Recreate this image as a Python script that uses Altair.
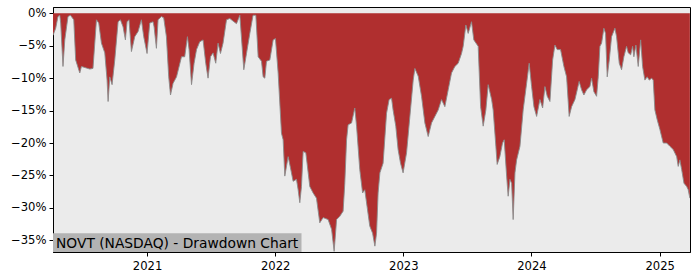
import altair as alt
import pandas as pd

# time in decimal years, drawdown in percent
years = [
    2020.266, 2020.287, 2020.305, 2020.319, 2020.326, 2020.344, 2020.358, 2020.383, 2020.402, 2020.428,
    2020.443, 2020.475, 2020.488, 2020.521, 2020.553, 2020.578, 2020.605, 2020.623, 2020.644, 2020.670,
    2020.688, 2020.696, 2020.709, 2020.727, 2020.748, 2020.774, 2020.792, 2020.813, 2020.831, 2020.844,
    2020.859, 2020.878, 2020.904, 2020.930, 2020.956, 2020.974, 2021.000, 2021.021, 2021.047, 2021.055,
    2021.073, 2021.086, 2021.112, 2021.130, 2021.151, 2021.169, 2021.183, 2021.203, 2021.230, 2021.269,
    2021.294, 2021.315, 2021.328, 2021.347, 2021.367, 2021.386, 2021.411, 2021.437, 2021.458, 2021.476,
    2021.495, 2021.515, 2021.536, 2021.554, 2021.573, 2021.593, 2021.620, 2021.646, 2021.671, 2021.698,
    2021.724, 2021.755, 2021.776, 2021.802, 2021.827, 2021.849, 2021.867, 2021.893, 2021.906, 2021.919,
    2021.932, 2021.958, 2021.984, 2022.002, 2022.023, 2022.049, 2022.062, 2022.075, 2022.101, 2022.119,
    2022.140, 2022.166, 2022.179, 2022.192, 2022.205, 2022.218, 2022.239, 2022.270, 2022.296, 2022.322,
    2022.348, 2022.374, 2022.413, 2022.440, 2022.460, 2022.479, 2022.504, 2022.530, 2022.543, 2022.557,
    2022.569, 2022.596, 2022.621, 2022.635, 2022.660, 2022.682, 2022.699, 2022.717, 2022.738, 2022.760,
    2022.778, 2022.791, 2022.803, 2022.817, 2022.842, 2022.869, 2022.889, 2022.908, 2022.920, 2022.941,
    2022.959, 2022.978, 2022.998, 2023.025, 2023.051, 2023.077, 2023.090, 2023.116, 2023.142, 2023.168,
    2023.194, 2023.220, 2023.246, 2023.272, 2023.298, 2023.324, 2023.350, 2023.376, 2023.402, 2023.428,
    2023.454, 2023.467, 2023.488, 2023.506, 2023.532, 2023.550, 2023.584, 2023.603, 2023.623, 2023.644,
    2023.662, 2023.689, 2023.701, 2023.722, 2023.732, 2023.753, 2023.774, 2023.787, 2023.806, 2023.818,
    2023.832, 2023.845, 2023.857, 2023.871, 2023.884, 2023.910, 2023.935, 2023.962, 2023.982, 2024.001,
    2024.019, 2024.040, 2024.066, 2024.087, 2024.105, 2024.123, 2024.144, 2024.165, 2024.183, 2024.201,
    2024.227, 2024.253, 2024.274, 2024.294, 2024.313, 2024.339, 2024.357, 2024.372, 2024.391, 2024.409,
    2024.430, 2024.456, 2024.469, 2024.487, 2024.508, 2024.521, 2024.534, 2024.547, 2024.565, 2024.578,
    2024.591, 2024.607, 2024.625, 2024.651, 2024.664, 2024.685, 2024.703, 2024.721, 2024.742, 2024.755,
    2024.774, 2024.789, 2024.799, 2024.815, 2024.833, 2024.852, 2024.867, 2024.885, 2024.903, 2024.919,
    2024.938, 2024.950, 2024.963, 2024.981, 2025.002, 2025.028, 2025.055, 2025.080, 2025.106, 2025.133,
    2025.145, 2025.158, 2025.172, 2025.190, 2025.211, 2025.223, 2025.236,
]
drawdown = [
    -3.4, -2.3, -0.5, -0.3, -1.5, -8.2, -4.1, -0.5, -0.3, -1.0,
    -7.2, -9.2, -8.2, -8.4, -8.6, -8.5, -1.0, -1.5, -4.6, -6.1,
    -10.3, -13.6, -9.8, -11.0, -7.2, -1.3, -1.0, -2.1, -4.1, -1.3,
    -1.0, -5.9, -3.6, -2.8, -1.0, -3.6, -6.2, -1.5, -1.3, -2.1,
    -5.4, -1.0, -0.5, -0.7, -3.6, -9.8, -12.6, -10.8, -9.8, -6.7,
    -6.7, -3.6, -5.6, -11.0, -7.7, -5.6, -4.4, -4.1, -7.7, -10.0,
    -6.7, -6.1, -7.7, -4.6, -6.2, -4.6, -1.0, -0.8, -1.2, -1.6,
    -0.3, -8.7, -6.2, -3.1, -0.3, -0.3, -6.7, -7.4, -9.8, -10.0,
    -7.4, -7.2, -4.1, -3.9, -9.2, -18.5, -19.5, -25.1, -22.1, -23.8,
    -25.9, -25.6, -27.2, -29.2, -26.7, -21.3, -21.5, -26.7, -27.7, -28.5,
    -32.3, -31.5, -31.8, -33.3, -36.7, -31.8, -31.3, -30.5, -26.2, -19.5,
    -17.2, -16.9, -14.6, -17.4, -24.1, -27.7, -27.2, -29.8, -32.8, -33.9,
    -35.9, -33.9, -27.7, -24.6, -23.1, -15.4, -13.3, -13.1, -14.9, -17.4,
    -21.0, -23.1, -24.6, -21.5, -15.9, -10.3, -8.5, -9.7, -12.8, -16.9,
    -19.0, -16.9, -15.9, -14.9, -13.3, -14.4, -11.8, -9.2, -8.2, -7.7,
    -6.2, -5.1, -1.8, -3.1, -1.3, -4.1, -5.1, -14.4, -17.4, -14.9,
    -11.0, -13.3, -14.9, -20.5, -23.3, -22.1, -20.0, -19.5, -25.1, -28.2,
    -25.6, -26.2, -31.8, -24.6, -22.6, -20.5, -14.9, -10.8, -7.7, -11.3,
    -14.4, -15.9, -13.3, -14.6, -11.3, -12.8, -13.6, -7.2, -4.9, -5.6,
    -5.6, -8.2, -9.8, -15.9, -14.4, -13.3, -11.8, -10.5, -11.8, -12.6,
    -11.8, -11.3, -10.0, -12.1, -12.8, -9.8, -5.1, -4.6, -2.3, -3.1,
    -9.8, -7.2, -3.6, -2.3, -3.6, -7.7, -8.7, -6.7, -5.1, -6.1,
    -6.4, -5.1, -6.7, -4.9, -8.2, -4.1, -8.2, -10.3, -9.8, -10.3,
    -10.0, -10.3, -14.9, -16.4, -17.9, -20.0, -20.0, -20.5, -21.0, -22.1,
    -23.6, -22.6, -24.1, -26.2, -26.7, -27.2, -28.5,
]

title_text = ["NOVT (NASDAQ) - Drawdown Chart"]
x_ticks = [2021, 2022, 2023, 2024, 2025]
y_ticks = [0, -5, -10, -15, -20, -25, -30, -35]

df = pd.DataFrame({"t": years, "dd": drawdown})

FONT = "DejaVu Sans"
W, H = 637, 245

xs = alt.Scale(domain=[2020.266, 2025.237], nice=False, zero=False)
ys = alt.Scale(domain=[-36.8, 0.97], nice=False, zero=False)

x_axis = alt.Axis(values=x_ticks, format="d", title=None, grid=False,
                  tickSize=4, labelPadding=4, labelFlush=False, labelOverlap=False)
y_axis = alt.Axis(values=y_ticks, title=None, grid=False, tickSize=4, labelPadding=3,
                  labelOverlap=False, labelBound=False, labelFlush=False,
                  labelExpr="datum.value == 0 ? '0%' : '\u2212' + abs(datum.value) + '%'")

area = alt.Chart(df).mark_area(color="#b02f2f", clip=True).encode(
    x=alt.X("t:Q", scale=xs, axis=x_axis),
    y=alt.Y("dd:Q", scale=ys, axis=y_axis),
    y2=alt.value(0),
)

edge = alt.Chart(df).mark_line(color="#8a8a8a", strokeWidth=0.9, clip=True).encode(
    x=alt.X("t:Q", scale=xs, axis=x_axis),
    y=alt.Y("dd:Q", scale=ys, axis=y_axis),
)

box = alt.Chart(pd.DataFrame({"k": [0]})).mark_rect(color="#b3b3b3").encode(
    x=alt.value(0), x2=alt.value(248.5), y=alt.value(226.3), y2=alt.value(H)
)

label = alt.Chart(pd.DataFrame({"label": title_text})).mark_text(
    align="left", baseline="alphabetic", font=FONT, fontSize=13.8, color="black"
).encode(text="label:N", x=alt.value(3), y=alt.value(240.5))

chart = alt.layer(area, edge, box, label).properties(
    width=W, height=H,
    autosize=alt.AutoSizeParams(type="none"),
    padding={"left": 53, "top": 7, "right": 10, "bottom": 28},
    background="white",
).configure_view(
    fill="#ebebeb", stroke="black", strokeWidth=1
).configure_axis(
    domainColor="black", tickColor="black", labelColor="black",
    labelFont=FONT, labelFontSize=11.6, domainWidth=1, tickWidth=1,
    labelOverlap=False,
)

chart.save("out.html", embed_options={"renderer": "svg", "actions": False})
